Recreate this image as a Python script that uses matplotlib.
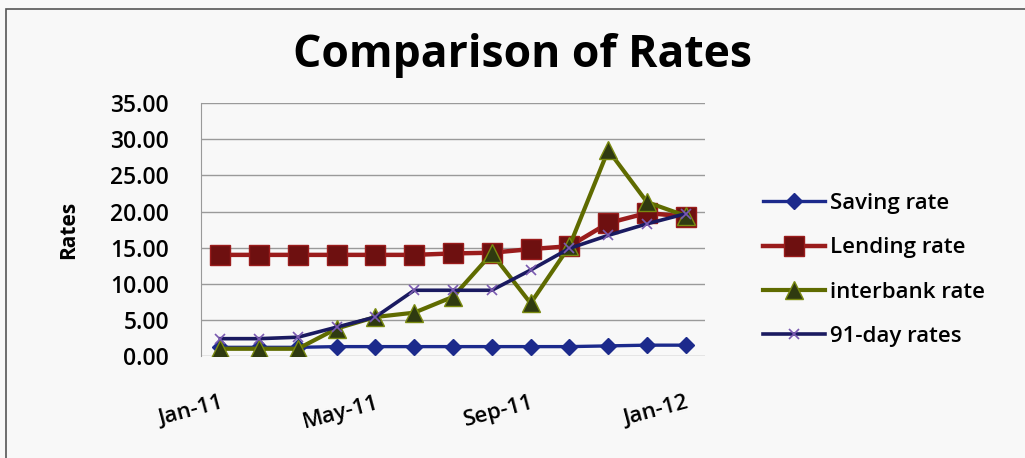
import matplotlib
matplotlib.use("Agg")
import matplotlib.pyplot as plt
from matplotlib.patches import Rectangle

months = ["Jan-11", "Feb-11", "Mar-11", "Apr-11", "May-11", "Jun-11", "Jul-11",
          "Aug-11", "Sep-11", "Oct-11", "Nov-11", "Dec-11", "Jan-12"]
saving_rate = [1.2, 1.2, 1.2, 1.3, 1.3, 1.3, 1.3, 1.3, 1.3, 1.3, 1.4, 1.5, 1.5]
lending_rate = [14.0, 14.0, 14.0, 14.0, 14.0, 14.0, 14.2, 14.3, 14.8, 15.2, 18.4, 19.8, 19.3]
interbank_rate = [1.0, 1.0, 1.0, 3.8, 5.4, 6.0, 8.2, 14.2, 7.3, 15.2, 28.5, 21.3, 19.4]
day91_rate = [2.4, 2.4, 2.6, 4.0, 5.4, 9.1, 9.1, 9.1, 11.9, 14.9, 16.7, 18.3, 19.7]
shown_months = ["Jan-11", "May-11", "Sep-11", "Jan-12"]

plt.rcParams["font.family"] = ["Open Sans", "DejaVu Sans"]
bg = "#f8f8f8"

fig = plt.figure(figsize=(10.25, 4.58), dpi=100, facecolor=bg)
ax = fig.add_axes([0.196, 0.2227, 0.492, 0.552], facecolor=bg)

# outer chart border (only top and left edges fall inside the image)
fig.add_artist(Rectangle((6 / 1025, -0.1), 1.2, 1 - 9 / 458 + 0.1,
                         transform=fig.transFigure, fill=False,
                         edgecolor="#555555", linewidth=1.2))

x = list(range(len(months)))
ax.plot(x, saving_rate, color="#1c2a8c", lw=2.4, marker="D", ms=8,
        mfc="#1c2a8c", mec="#1c2a8c", label="Saving rate")
ax.plot(x, lending_rate, color="#9a1c1c", lw=3.2, marker="s", ms=14,
        mfc="#6e1010", mec="#9a1c1c", label="Lending rate")
ax.plot(x, interbank_rate, color="#5f6b00", lw=3.0, marker="^", ms=13,
        mfc="#2f3a10", mec="#7a8a10", label="interbank rate")
ax.plot(x, day91_rate, color="#1a1a60", lw=2.6, marker="x", ms=7,
        mec="#7a5ab0", mew=1.2, label="91-day rates")

ax.set_xlim(-0.5, len(months) - 0.5)
ax.set_ylim(0, 35)
ax.set_yticks(range(0, 36, 5))
ax.set_yticklabels([f"{v:.2f}" for v in range(0, 36, 5)])
ax.set_xticks([months.index(m) for m in shown_months])
ax.set_xticklabels(shown_months, rotation=15, ha="right", rotation_mode="anchor")

ax.grid(axis="y", color="#9a9a9a", linewidth=1.0)
ax.set_axisbelow(True)
for side in ["top", "right", "bottom"]:
    ax.spines[side].set_visible(False)
ax.spines["left"].set_color("#9a9a9a")
ax.tick_params(axis="y", length=0, pad=23, labelsize=16.5)
ax.tick_params(axis="x", length=0, pad=26, labelsize=16)
for lab in ax.get_yticklabels() + ax.get_xticklabels():
    lab.set_fontweight("semibold")

ax.set_ylabel("Rates", fontsize=15, fontweight="bold", labelpad=22)
fig.text(0.51, 0.878, "Comparison of Rates", ha="center", va="center",
         fontsize=32, fontweight="bold")

leg = ax.legend(loc="center left", bbox_to_anchor=(1.075, 0.34), frameon=False,
                fontsize=16, handlelength=2.8, handletextpad=0.2,
                labelspacing=1.05)
for t in leg.get_texts():
    t.set_fontweight("semibold")

fig.savefig("out.png", dpi=100, facecolor=bg)
